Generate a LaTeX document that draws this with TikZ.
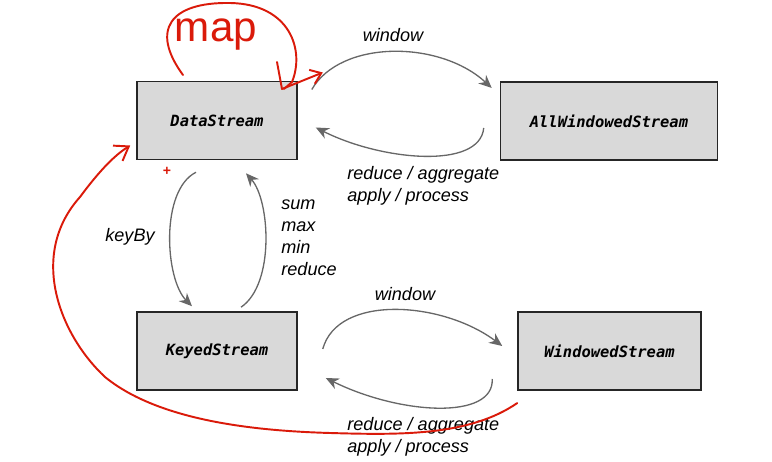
\documentclass[tikz,border=0pt]{standalone}
\usepackage{fontspec}
\setmainfont{Liberation Sans}
\setmonofont{DejaVu Sans Mono}
\usetikzlibrary{arrows.meta}
\definecolor{boxfill}{HTML}{D9D9D9}
\definecolor{arrowgray}{HTML}{676767}
\definecolor{inkred}{HTML}{DA1A0A}

\begin{document}
\begin{tikzpicture}[x=0.02cm,y=-0.02cm,
  stream/.style={draw=black!85,line width=0.9pt,fill=boxfill,minimum height=1.56cm,
    font=\ttfamily\bfseries\itshape\fontsize{8.8}{10}\selectfont},
  flow/.style={draw=arrowgray,line width=0.75pt,-{Stealth[length=2.6mm,width=2.3mm]}},
  lbl/.style={font=\itshape\fontsize{10.3}{12.5}\selectfont,inner sep=0pt,align=left},
  ink/.style={draw=inkred,line width=1.1pt,line cap=round,line join=round}]
  \useasboundingbox (0,0) rectangle (772,462);

  % Stream boxes
  \node[stream,minimum width=3.2cm]  (ds)  at (217,120.5) {DataStream};
  \node[stream,minimum width=4.34cm] (aws) at (609,121)   {AllWindowedStream};
  \node[stream,minimum width=3.2cm]  (ks)  at (217,351)   {KeyedStream};
  \node[stream,minimum width=3.66cm] (ws)  at (609.5,351) {WindowedStream};

  % Transitions (upper row)
  \draw[flow] ([shift={(14,-31)}]ds.east) .. controls +(29,-50) and +(-52,-48) .. ([shift={(-8,-33)}]aws.west);
  \draw[flow] ([shift={(-16,7)}]aws.west) .. controls +(-4,42) and +(65,33) .. ([shift={(18,7)}]ds.east);
  % Transitions (lower row)
  \draw[flow] ([shift={(25,-2)}]ks.east) .. controls +(15,-55) and +(-60,-45) .. ([shift={(-15,-5)}]ws.west);
  \draw[flow] ([shift={(-25,28)}]ws.west) .. controls +(2,41) and +(75,37) .. ([shift={(28,27)}]ks.east);
  % Transitions (left column)
  \draw[flow] ([shift={(-21,12)}]ds.south) .. controls +(-36,18) and +(-27,-27) .. ([shift={(-25,-5)}]ks.north);
  \draw[flow] ([shift={(24,-4)}]ks.north) .. controls +(34,-23) and +(24,27) .. ([shift={(29,13)}]ds.south);

  % Labels
  \node[lbl] (wintop) at (393,35) {window};
  \node[lbl,anchor=west] (redtop) at (347,186) {reduce / aggregate\\apply / process};
  \node[lbl] (keyby) at (130,237) {keyBy};
  \node[lbl,anchor=west] (aggs) at (281,237.5) {sum\\max\\min\\reduce};
  \node[lbl] (winbot) at (405,294) {window};
  \node[lbl,anchor=west] (redbot) at (347,437) {reduce / aggregate\\apply / process};

  % Red annotations
  \node[text=inkred,font=\fontsize{24}{24}\selectfont,inner sep=0pt] (mapnote) at (216,35) {map};
  \node[text=inkred,font=\bfseries\fontsize{8}{8}\selectfont,inner sep=0pt] (plus) at (167,171) {+};
  \draw[ink] (183,75) .. controls (150,30) and (170,2) .. (230,3)
    .. controls (290,4) and (305,50) .. (292,82) -- (284,89);
  \draw[ink,-{Straight Barb[length=2mm,width=3mm]}] (277,62) -- (282,89) -- ([shift={(25,-48)}]ds.east);
  \draw[ink,-{Straight Barb[length=2.6mm,width=3.6mm]}] ([yshift=-7]ws.south west)
    .. controls +(-48,33) and +(70,2) .. (330,433)
    .. controls (260,431) and (160,422) .. (105,377)
    .. controls (60,335) and (28,255) .. (80,197)
    .. controls (100,170) and (115,155) .. ([shift={(-6,25)}]ds.west);
\end{tikzpicture}
\end{document}
